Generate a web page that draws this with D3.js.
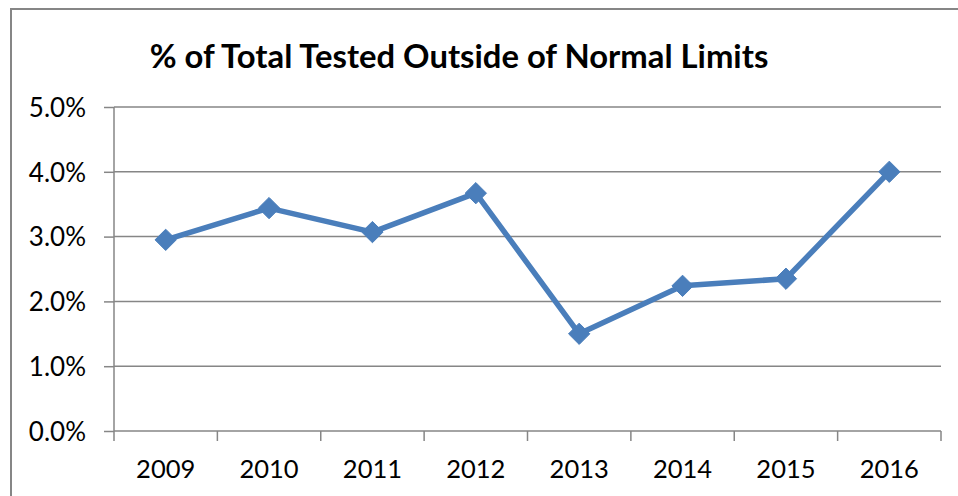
<!DOCTYPE html>
<html>
<head>
<meta charset="utf-8">
<script src="https://cdn.jsdelivr.net/npm/d3@7"></script>
<style>
  html, body { margin: 0; padding: 0; background: #fff; }
  svg { display: block; }
</style>
</head>
<body>
<svg id="chart" width="958" height="496"></svg>
<script>
// Yearly share of tested samples that fell outside normal limits
const years = ["2009", "2010", "2011", "2012", "2013", "2014", "2015", "2016"];
const pctOutside = [2.95, 3.44, 3.07, 3.67, 1.50, 2.24, 2.35, 4.00];
const yTicks = [0, 1, 2, 3, 4, 5];
const chartTitle = "% of Total Tested Outside of Normal Limits";

const svg = d3.select("#chart");
const W = 958, H = 496;
const plot = { left: 114, right: 941, top: 107, bottom: 431 };
const font = "Lato, 'Open Sans', sans-serif";
const gridColor = "#868686";
const lineColor = "#4a7ebb";

// outer chart frame
svg.append("rect")
  .attr("x", 11).attr("y", 9)
  .attr("width", W).attr("height", H)
  .attr("fill", "none").attr("stroke", "#868686").attr("stroke-width", 2);

const x = d3.scaleBand().domain(years).range([plot.left, plot.right]).padding(0);
const y = d3.scaleLinear().domain([0, 5]).range([plot.bottom, plot.top]);

// horizontal gridlines
svg.append("g").selectAll("line").data(yTicks.filter(d => d > 0)).join("line")
  .attr("x1", plot.left).attr("x2", plot.right)
  .attr("y1", d => y(d)).attr("y2", d => y(d))
  .attr("stroke", gridColor).attr("stroke-width", 1.5);

// y axis
const yAxis = svg.append("g")
  .attr("transform", `translate(${plot.left},0)`)
  .call(d3.axisLeft(y).tickValues(yTicks).tickSize(10).tickPadding(18)
    .tickFormat(d => d.toFixed(1) + "%"));
yAxis.select(".domain").attr("stroke", gridColor).attr("stroke-width", 1.5)
  .attr("d", `M0,${plot.top}V${plot.bottom}`);
yAxis.selectAll(".tick line").attr("stroke", gridColor).attr("stroke-width", 1.5);
yAxis.selectAll(".tick text")
  .attr("font-family", font).attr("font-size", 26).attr("fill", "#000")
  .attr("dy", "0.36em");

// x axis: ticks sit on category boundaries
const xAxis = svg.append("g").attr("transform", `translate(0,${plot.bottom})`);
xAxis.append("line")
  .attr("x1", plot.left).attr("x2", plot.right)
  .attr("stroke", gridColor).attr("stroke-width", 1.5);
const bounds = years.map(d => x(d)).concat([x(years[years.length - 1]) + x.bandwidth()]);
xAxis.selectAll("line.tk").data(bounds).join("line").attr("class", "tk")
  .attr("x1", d => d).attr("x2", d => d).attr("y1", 0).attr("y2", 10)
  .attr("stroke", gridColor).attr("stroke-width", 1.5);
xAxis.selectAll("text").data(years).join("text")
  .attr("x", d => x(d) + x.bandwidth() / 2).attr("y", 47)
  .attr("text-anchor", "middle")
  .attr("font-family", font).attr("font-size", 25.5).attr("fill", "#000")
  .text(d => d);

// data line
const pts = years.map((yr, i) => [x(yr) + x.bandwidth() / 2, y(pctOutside[i])]);
svg.append("path")
  .attr("d", d3.line()(pts))
  .attr("fill", "none").attr("stroke", lineColor)
  .attr("stroke-width", 5.5).attr("stroke-linejoin", "round");

// diamond markers
svg.append("g").selectAll("path").data(pts).join("path")
  .attr("transform", d => `translate(${d[0]},${d[1]})`)
  .attr("d", d3.symbol(d3.symbolDiamond2, 290)())
  .attr("fill", lineColor).attr("stroke", lineColor).attr("stroke-width", 1);

// title
svg.append("text")
  .attr("x", 459).attr("y", 68)
  .attr("text-anchor", "middle")
  .attr("font-family", font).attr("font-weight", "bold")
  .attr("font-size", 32.8).attr("fill", "#000")
  .text(chartTitle);
</script>
</body>
</html>
